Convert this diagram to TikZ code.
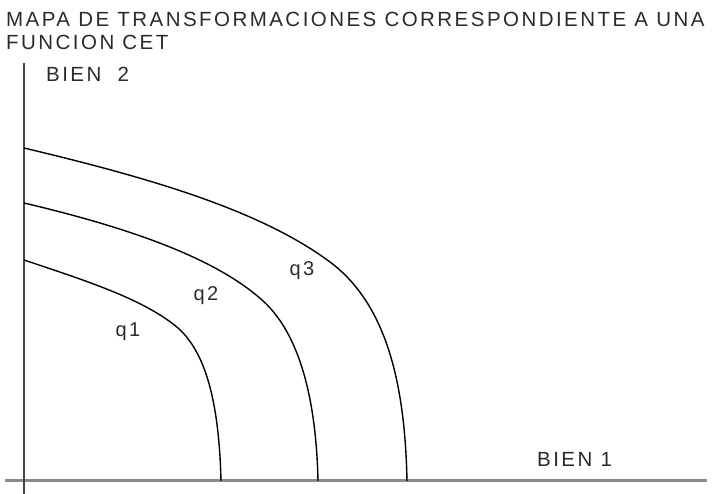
\documentclass[tikz,border=0pt]{standalone}
\usepackage{fontspec}
\setmainfont{Liberation Sans}[LetterSpace=12]
\usepackage{tikz}
\usetikzlibrary{positioning}
\definecolor{ejeclaro}{HTML}{8A8A8A}
\definecolor{ejeoscuro}{HTML}{444444}
\definecolor{texto}{HTML}{2A2A2A}
\tikzset{
    rotulo/.style={inner sep=0pt, text=texto, anchor=base west, font=\fontsize{20.5}{23}\selectfont},
    etiqueta/.style={inner sep=0pt, text=texto, font=\fontsize{20}{22}\selectfont},
    curva/.style={line width=1.4pt, black},
    ejeH/.style={line width=3pt, ejeclaro},
    ejeV/.style={line width=1.8pt, ejeoscuro}
}
\begin{document}
\begin{tikzpicture}[x=1pt, y=-1pt]
    \useasboundingbox (0,0) rectangle (724,494);

    % titulo
    \node[rotulo] (tit1) at (6,27) {MAPA DE TRANSFORMACIONES CORRESPONDIENTE A UNA};
    \node[rotulo] (tit2) at (6,50) {FUNCION CET};

    % ejes
    \coordinate (oy1) at (24,63);
    \coordinate (oy2) at (24,494);
    \coordinate (ox1) at (5,481);
    \coordinate (ox2) at (707,481);
    \draw[ejeH] (ox1) -- (ox2);
    \draw[ejeV] (oy1) -- (oy2);
    \node[rotulo] (b2) at (46,82) {BIEN\ \ 2};
    \node[rotulo] (b1) at (537,467) {BIEN 1};

    % curvas de transformacion
    \draw[curva] (24,260) .. controls (90,282) and (145,300) .. (178,328)
                 .. controls (205,352) and (219,400) .. (221,481);
    \draw[curva] (24,203) .. controls (130,228) and (215,258) .. (262,300)
                 .. controls (296,330) and (316,390) .. (318,481);
    \draw[curva] (24,148) .. controls (150,178) and (260,210) .. (330,262)
                 .. controls (385,303) and (405,380) .. (407,481);

    \node[etiqueta] (q1) at (128,332) {q1};
    \node[etiqueta] (q2) at (206,296) {q2};
    \node[etiqueta] (q3) at (302,271) {q3};
\end{tikzpicture}
\end{document}
